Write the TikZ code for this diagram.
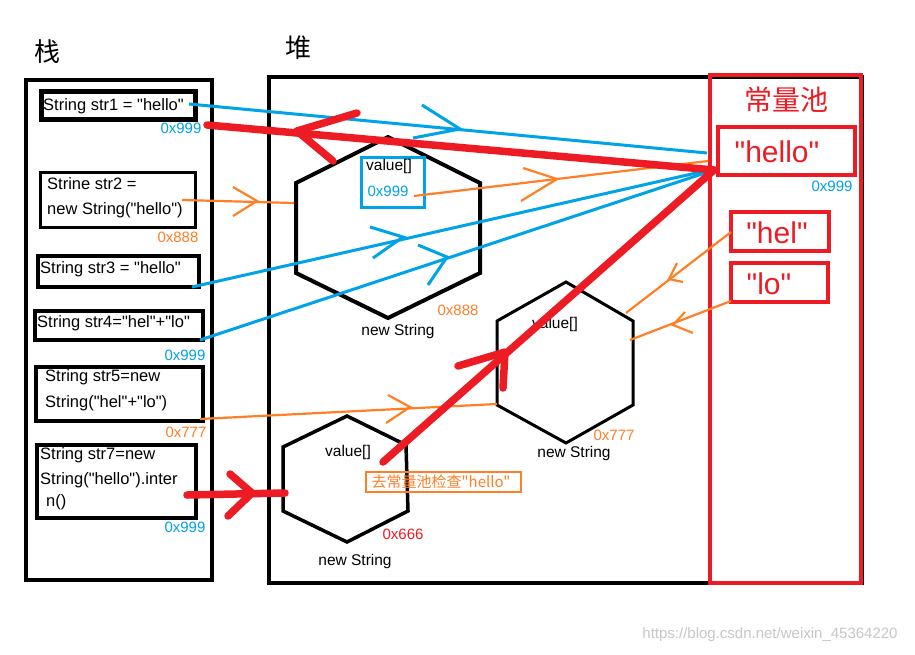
\documentclass[tikz,border=0pt]{standalone}
\usepackage{fontspec}
\setmainfont{Liberation Sans}[Ligatures=TeXOff]
\newfontfamily\cjk{Noto Sans CJK SC}
\usetikzlibrary{fit}
\definecolor{pblue}{HTML}{00A2E8}
\definecolor{porange}{HTML}{FF7F27}
\definecolor{pred}{HTML}{ED1C24}
\begin{document}
\begin{tikzpicture}[x=1pt,y=-1pt,
  frame/.style={draw=black, line width=4pt},
  sbox/.style={draw=black, line width=3.5pt, inner sep=0pt},
  pbox/.style={draw=pred, line width=3.5pt, inner sep=0pt},
  txt/.style={font=\fontsize{16.5}{18}\selectfont, inner sep=0pt, anchor=west},
  addr/.style={font=\fontsize{15}{17}\selectfont, inner sep=0pt},
  htxt/.style={font=\fontsize{15.5}{17}\selectfont, inner sep=0pt},
  ptxt/.style={font=\fontsize{30}{32}\selectfont, text=pred, inner sep=0pt},
  bl/.style={draw=pblue, line width=3pt},
  ol/.style={draw=porange, line width=2.2pt},
  rl/.style={draw=pred, line width=7.5pt, line cap=round, line join=round},
  hexa/.style={draw=black, line join=miter}
]
\useasboundingbox (0,0) rectangle (915,654);
\fill[white] (0,0) rectangle (915,654);

% titles
\node[font=\cjk\fontsize{26}{28}\selectfont, inner sep=0] (zhan) at (47,52) {栈};
\node[font=\cjk\fontsize{26}{28}\selectfont, inner sep=0] (dui) at (298,48) {堆};

% frames
\node[frame, inner sep=0pt, fit={(26,80) (212,580)}] (stack) {};
\node[frame, inner sep=0pt, fit={(269,77) (862,583)}] (heap) {};
\node[draw=pred, line width=4pt, inner sep=0pt, fit={(710,75) (861,583)}] (pool) {};

% stack boxes
\node[sbox, line width=5pt, fit={(41.5,91.5) (195.5,119.5)}] (b1) {};
\node[txt] (t1) at (43,106) {String str1 = "hello"};
\node[addr, text=pblue] (a1) at (181,128) {0x999};

\node[sbox, line width=3pt, fit={(40,172) (195,227)}] (b2) {};
\node[txt] (t2a) at (47,184) {Strine str2 =};
\node[txt] (t2b) at (47,210) {new String("hello")};
\node[addr, text=porange] (a2) at (178,237) {0x888};

\node[sbox, fit={(38,256) (199,287)}] (b3) {};
\node[txt] (t3) at (40,269) {String str3 = "hello"};

\node[sbox, fit={(35,311) (203,340)}] (b4) {};
\node[txt] (t4) at (37,323) {String str4="hel"+"lo"};
\node[addr, text=pblue] (a4) at (185,355) {0x999};

\node[sbox, fit={(36,367) (203,421)}] (b5) {};
\node[txt] (t5a) at (45,377) {String str5=new};
\node[txt] (t5b) at (45,403) {String("hel"+"lo")};
\node[addr, text=porange] (a5) at (186,432) {0x777};

\node[sbox, fit={(37,445) (196,518)}] (b6) {};
\node[txt] (t6a) at (40,455) {String str7=new};
\node[txt] (t6b) at (40,480) {String("hello").inter};
\node[txt] (t6c) at (46,502) {n()};
\node[addr, text=pblue] (a6) at (185,527) {0x999};

% hexagons
\draw[hexa, line width=4pt] (388,137) -- (480,183) -- (480,273) -- (388,318) -- (296,273) -- (296,183) -- cycle;
\draw[hexa, line width=3pt] (566,282) -- (633,321) -- (633,405) -- (566,443) -- (497,405) -- (497,321) -- cycle;
\draw[hexa, line width=3.5pt] (347,416) -- (406,445) -- (408,511) -- (347,542) -- (283,511) -- (283,447) -- cycle;

% heap texts
\node[draw=pblue, line width=3pt, inner sep=0pt, fit={(361,157) (424,207)}] (vb) {};
\node[htxt] (v1) at (389,166) {value[]};
\node[addr, text=pblue] (v1a) at (388,191) {0x999};
\node[addr, text=porange] (h1a) at (458,310) {0x888};
\node[htxt] (h1n) at (398,331) {new String};

\node[htxt] (v2) at (555,324) {value[]};
\node[addr, text=porange] (h2a) at (614,435) {0x777};
\node[htxt] (h2n) at (574,453) {new String};

\node[htxt] (v3) at (348,452) {value[]};
\node[addr, text=pred] (h3a) at (403,534) {0x666};
\node[htxt] (h3n) at (355,561) {new String};

% pool
\node[font=\cjk\fontsize{28}{30}\selectfont, text=pred, inner sep=0] (cl) at (786,100) {常量池};
\node[pbox, fit={(718,127) (855,175)}] (ph) {};
\node[ptxt] (phx) at (777,152) {"hello"};
\node[addr, text=pblue] (pha) at (832,186) {0x999};
\node[pbox, fit={(731,212) (829,251)}] (pl1) {};
\node[ptxt] (pl1x) at (777,233) {"hel"};
\node[pbox, fit={(731,263) (828,302)}] (pl2) {};
\node[ptxt] (pl2x) at (769,284) {"lo"};

% coordinates
\coordinate (s1e) at (189,104);
\coordinate (s3e) at (192,287);
\coordinate (s4e) at (200,340);
\coordinate (pA) at (707,153);
\coordinate (pB) at (705,171);
\coordinate (pC) at (705,173);
\coordinate (pO) at (708,161);
\coordinate (pR) at (714,170);
\coordinate (s2e) at (182,200);
\coordinate (h1w) at (294,203);
\coordinate (v1e) at (414,196);
\coordinate (s5e) at (200,419);
\coordinate (h2ll) at (497,404);
\coordinate (helw) at (731,232);
\coordinate (h2ur) at (626,313);
\coordinate (low) at (731,301);
\coordinate (h2r) at (630,340);
\coordinate (s1r) at (207,125);
\coordinate (v3e) at (383,462);
\coordinate (s7e) at (187,495);
\coordinate (h3w) at (285,493);

% blue lines
\draw[bl] (s1e) -- (pA);
\draw[bl] (s3e) -- (pB);
\draw[bl] (s4e) -- (pC);
\draw[bl] (422,105) -- (460,129) -- (413,138);
\draw[bl] (370,227) -- (403,237) -- (373,258);
\draw[bl] (418,245) -- (447,257) -- (428,285);

% orange lines
\draw[ol] (s2e) -- (h1w);
\draw[ol] (233,187) -- (257,201) -- (233,216);
\draw[ol] (v1e) -- (pO);
\draw[ol] (523,168) -- (557,179) -- (521,201);
\draw[ol] (s5e) -- (h2ll);
\draw[ol] (388,395) -- (410,407) -- (386,423);
\draw[ol] (helw) -- (h2ur);
\draw[ol] (677,263) -- (669,279) -- (683,282);
\draw[ol] (low) -- (h2r);
\draw[ol] (685,312) -- (673,325) -- (693,333);

% red lines
\draw[rl] (s1r) -- (pR);
\draw[rl] (357,113) -- (297,131) -- (333,161);
\draw[rl] (v3e) -- (pR);
\draw[rl] (458,366) -- (505,352) -- (503,388);
\draw[rl] (s7e) -- (h3w);
\draw[rl] (230,474) -- (252,493) -- (228,516);

% orange label box
\node[draw=porange, line width=2pt, inner sep=0pt, fit={(366,472) (521,492)}] (ob) {};
\node[font=\cjk\fontsize{15}{17}\selectfont, text=porange, inner sep=0] (obt) at (441,482) {去常量池检查"hello"};

% watermark
\node[font=\fontsize{15}{17}\selectfont, text=black!22, inner sep=0] (wm) at (770,635) {https://blog.csdn.net/weixin\_45364220};
\end{tikzpicture}
\end{document}
